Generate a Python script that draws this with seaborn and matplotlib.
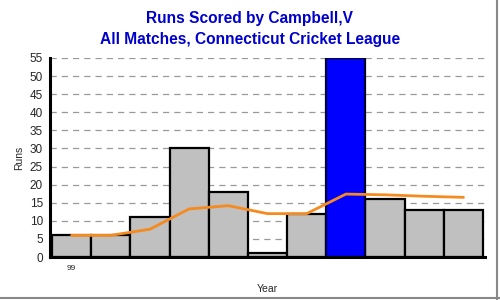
import matplotlib
matplotlib.use("Agg")
import matplotlib.pyplot as plt
import seaborn as sns
import pandas as pd
from matplotlib.lines import Line2D

# Data
innings = ["1", "2", "3", "4", "5", "6", "7", "8", "9", "10", "11"]
runs = [6, 6, 11, 30, 18, 1, 12, 55, 16, 13, 13]
average = [6, 6, 7.7, 13.3, 14.2, 12, 12, 17.4, 17.2, 16.8, 16.5]
tick_labels = ["99", "", "", "", "", "", "", "", "", "", ""]
highlight = [False, False, False, False, False, False, False, True, False, False, False]

df = pd.DataFrame({"inn": innings, "runs": runs,
                   "hl": ["hi" if h else "lo" for h in highlight]})

sns.set_style("white")
plt.rcParams['font.family'] = ['Liberation Sans', 'DejaVu Sans']

fig = plt.figure(figsize=(5, 3), dpi=100)
ax = fig.add_axes([0.100, 0.143, 0.870, 0.664])

sns.barplot(data=df, x="inn", y="runs", hue="hl",
            palette={"lo": "#C0C0C0", "hi": "#0000FF"},
            width=1.0, dodge=False, legend=False, ax=ax,
            edgecolor="black", linewidth=1.6, saturation=1)
for p in ax.patches:
    if p.get_facecolor()[2] > 0.9 and p.get_facecolor()[0] < 0.1:
        p.set_edgecolor("#000033")

sns.lineplot(x=list(range(len(average))), y=average, color="#F58A1F",
             linewidth=2, ax=ax)

ax.set_xlim(-0.55, 10.55)
ax.set_ylim(0, 55)
ax.set_yticks(range(0, 56, 5))
ax.set_yticklabels([str(v) for v in range(0, 56, 5)], fontsize=8.5)
ax.set_xticks(range(len(innings)))
ax.set_xticklabels(tick_labels, fontsize=6)
ax.tick_params(axis="x", length=4, color="#888888", direction="out", pad=2)
ax.tick_params(axis="y", length=4, color="#888888", direction="out", pad=1)
for y in range(5, 56, 5):
    ax.axhline(y, color="#999999", linestyle=(0, (5, 4)), linewidth=0.9, zorder=0)
ax.set_axisbelow(True)

for s in ["top", "right"]:
    ax.spines[s].set_visible(False)
ax.spines["left"].set_linewidth(2.2)
ax.spines["bottom"].set_linewidth(2.2)
ax.spines["left"].set_color("black")
ax.spines["bottom"].set_color("black")

ax.set_ylabel("Runs", fontsize=7.5, labelpad=4)
ax.set_xlabel("Year", fontsize=7.5, labelpad=8)

fig.text(0.5, 0.94, "Runs Scored by Campbell,V", ha="center", va="center",
         fontsize=11.2, fontweight="bold", color="#0000CC")
fig.text(0.5, 0.867, "All Matches, Connecticut Cricket League", ha="center",
         va="center", fontsize=11.2, fontweight="bold", color="#0000CC")

# image border (right and bottom)
fig.add_artist(Line2D([0.994, 0.994], [0.0, 1.0], color="#888888", linewidth=1.5,
                      transform=fig.transFigure))
fig.add_artist(Line2D([0.0, 1.0], [0.006, 0.006], color="#888888", linewidth=1.5,
                      transform=fig.transFigure))

fig.savefig("out.png", dpi=100)
